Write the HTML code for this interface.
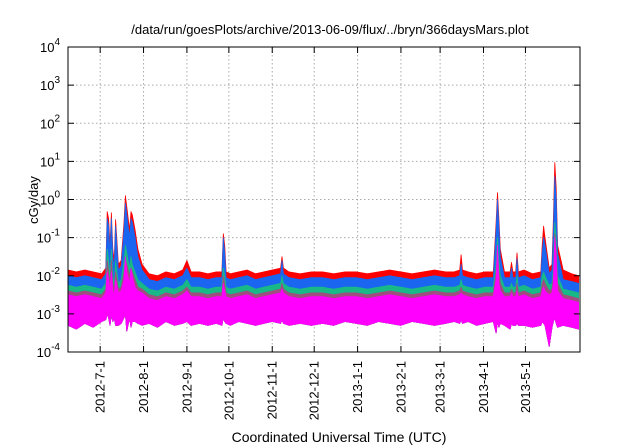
<!DOCTYPE html>
<html><head><meta charset="utf-8"><style>
body{margin:0;background:#fff}
svg{display:block;font-family:"Liberation Sans",sans-serif}
</style></head><body>
<svg id="c" width="640" height="448" viewBox="0 0 640 448">
<rect width="640" height="448" fill="#fff"/>
<text x="330" y="34" text-anchor="middle" font-size="13">/data/run/goesPlots/archive/2013-06-09/flux/../bryn/366daysMars.plot</text>
<text transform="translate(38,200) rotate(-90)" text-anchor="middle" font-size="13">cGy/day</text>
<text x="339" y="442" text-anchor="middle" font-size="14">Coordinated Universal Time (UTC)</text>
<g id="grid"></g><g id="series"></g><g id="axes"></g>
</svg>
<script>
const days=[0,6,12,18,24, 27,28,29,30,31,32,33,34, 36,38,40,41,42,44,45,46,48,50,53, 58,64,70,76,82,85,88, 94,100,106,110,111,112,113,116, 122,128,134,140,146,152,153,154,158, 166,174,182,190,198,206,214,222,230,238,246,254,262,270,276, 280,281,282,286,292,298,304, 306,307,308,309,312,316,317,318,320,321,322, 326,332,338,339,340,341,344,346,347,348,349,350, 354,360,365];
const redLog=[-1.85,-1.9,-1.85,-1.9,-1.95, -1.8,-0.32,-0.5,-1.2,-0.35,-1.3,-1.6,-0.53, -1.7,-1.6,-0.6,0.1,-0.2,-0.8,-0.32,-0.4,-0.8,-1.3,-1.7, -1.95,-2.0,-1.9,-1.95,-1.85,-1.6,-1.9, -1.9,-1.95,-1.9,-1.9,-0.9,-1.2,-1.9,-1.95, -1.9,-1.85,-1.95,-1.9,-1.85,-1.8,-1.5,-1.8,-1.9, -1.95,-1.9,-1.9,-1.95,-1.9,-1.9,-1.95,-1.9,-1.85,-1.9,-1.95,-1.9,-1.85,-1.9,-1.9, -1.85,-1.45,-1.85,-1.9,-1.95,-1.9,-1.9, -0.6,0.18,-0.5,-1.3,-1.9,-1.9,-1.65,-1.9,-1.9,-1.4,-1.9, -1.85,-1.95,-1.9,-1.2,-0.7,-1.0,-1.8,-1.7,-0.5,0.97,0.3,-1.2, -1.85,-1.95,-2.0];
const blueLog=[-2.0,-2.05,-2.0,-2.05,-2.1, -1.95,-0.5,-0.7,-1.4,-0.5,-1.5,-1.8,-0.7, -1.85,-1.75,-0.8,-0.1,-0.4,-1.0,-0.5,-0.6,-1.0,-1.5,-1.85, -2.1,-2.15,-2.05,-2.1,-2.0,-1.8,-2.05, -2.05,-2.1,-2.05,-2.05,-1.0,-1.4,-2.05,-2.1, -2.05,-2.0,-2.1,-2.05,-2.0,-1.95,-1.6,-1.95,-2.05, -2.1,-2.05,-2.05,-2.1,-2.05,-2.05,-2.1,-2.05,-2.0,-2.05,-2.1,-2.05,-2.0,-2.05,-2.05, -2.0,-1.7,-2.0,-2.05,-2.1,-2.05,-2.05, -0.8,0.0,-0.7,-1.5,-2.05,-2.05,-1.8,-2.05,-2.05,-1.55,-2.05, -2.0,-2.1,-2.05,-1.4,-1.0,-1.2,-1.95,-1.85,-0.8,0.6,0.0,-1.4, -2.1,-2.15,-2.2];
const greenLog=[-2.25,-2.3,-2.25,-2.3,-2.35, -2.2,-1.3,-1.6,-2.0,-1.3,-2.0,-2.2,-1.6, -2.2,-2.1,-1.6,-1.2,-1.4,-1.8,-1.5,-1.7,-1.9,-2.1,-2.2, -2.35,-2.4,-2.3,-2.35,-2.25,-2.1,-2.3, -2.3,-2.35,-2.3,-2.3,-1.8,-2.0,-2.3,-2.35, -2.3,-2.25,-2.35,-2.3,-2.25,-2.2,-2.0,-2.2,-2.3, -2.35,-2.3,-2.3,-2.35,-2.3,-2.3,-2.35,-2.3,-2.25,-2.3,-2.35,-2.3,-2.25,-2.3,-2.3, -2.25,-2.1,-2.25,-2.3,-2.35,-2.3,-2.3, -1.7,-1.0,-1.6,-2.0,-2.3,-2.3,-2.2,-2.3,-2.3,-2.0,-2.3, -2.25,-2.35,-2.3,-2.0,-1.9,-2.0,-2.25,-2.2,-1.8,-0.6,-1.0,-2.0, -2.35,-2.4,-2.45];
const purpleLog=[-2.4,-2.45,-2.4,-2.45,-2.5, -2.35,-1.6,-1.9,-2.2,-1.6,-2.2,-2.35,-1.9, -2.35,-2.3,-1.9,-1.6,-1.7,-2.0,-1.8,-1.9,-2.1,-2.3,-2.35, -2.5,-2.55,-2.45,-2.5,-2.4,-2.3,-2.45, -2.45,-2.5,-2.45,-2.45,-2.0,-2.2,-2.45,-2.5, -2.45,-2.4,-2.5,-2.45,-2.4,-2.35,-2.2,-2.35,-2.45, -2.5,-2.45,-2.45,-2.5,-2.45,-2.45,-2.5,-2.45,-2.4,-2.45,-2.5,-2.45,-2.4,-2.45,-2.45, -2.4,-2.3,-2.4,-2.45,-2.5,-2.45,-2.45, -1.9,-1.3,-1.9,-2.2,-2.45,-2.45,-2.35,-2.45,-2.45,-2.2,-2.45, -2.4,-2.5,-2.45,-2.2,-2.1,-2.2,-2.4,-2.35,-2.0,-0.9,-1.3,-2.2, -2.5,-2.55,-2.6];
const magentaLog=[-2.5,-2.55,-2.5,-2.55,-2.6, -2.45,-1.9,-2.1,-2.4,-1.9,-2.4,-2.5,-2.1, -2.45,-2.4,-2.1,-1.5,-1.9,-2.2,-1.8,-2.0,-2.3,-2.4,-2.45, -2.6,-2.65,-2.55,-2.6,-2.5,-2.4,-2.55, -2.55,-2.6,-2.55,-2.55,-2.2,-2.4,-2.55,-2.6, -2.55,-2.5,-2.6,-2.55,-2.5,-2.45,-2.35,-2.45,-2.55, -2.6,-2.55,-2.55,-2.6,-2.55,-2.55,-2.6,-2.55,-2.5,-2.55,-2.6,-2.55,-2.5,-2.55,-2.55, -2.5,-2.45,-2.5,-2.55,-2.6,-2.55,-2.55, -2.1,-1.2,-2.2,-2.4,-2.55,-2.55,-2.45,-2.55,-2.55,-2.4,-2.55, -2.5,-2.6,-2.55,-2.4,-2.3,-2.4,-2.5,-2.45,-2.2,-1.0,-1.5,-2.4, -2.6,-2.65,-2.7];
const floorLog=[-3.3,-3.4,-3.25,-3.35,-3.2, -3.15,-3.0,-3.1,-3.3,-3.0,-3.2,-3.1,-3.3, -3.3,-3.25,-3.1,-3.0,-3.45,-3.1,-3.35,-3.2,-3.2,-3.25,-3.3, -3.25,-3.35,-3.2,-3.3,-3.25,-3.2,-3.3, -3.25,-3.3,-3.25,-3.3,-3.1,-3.2,-3.25,-3.3, -3.2,-3.25,-3.3,-3.25,-3.2,-3.25,-3.15,-3.25,-3.3, -3.25,-3.3,-3.25,-3.3,-3.2,-3.25,-3.3,-3.2,-3.25,-3.3,-3.2,-3.25,-3.3,-3.25,-3.2, -3.25,-3.15,-3.25,-3.2,-3.3,-3.25,-3.2, -3.5,-3.2,-3.35,-3.25,-3.3,-3.4,-3.25,-3.3,-3.3,-3.25,-3.3, -3.3,-3.35,-3.3,-3.2,-3.25,-3.3,-3.85,-3.35,-3.2,-3.1,-3.25,-3.35, -3.3,-3.35,-3.4];
const yTickExp=[-4,-3,-2,-1,0,1,2,3,4];
const xTickLabels=["2012-7-1","2012-8-1","2012-9-1","2012-10-1","2012-11-1","2012-12-1","2013-1-1","2013-2-1","2013-3-1","2013-4-1","2013-5-1"];
const xTickDays=[23,54,85,115,146,176,207,238,266,297,327];

const L=68,R=580,T=47,B=352,NS="http://www.w3.org/2000/svg";
const xs=d=>L+d*(R-L)/366;
const ys=e=>B-(e+4)*(B-T)/8;
function mk(tag,attrs,parent){const el=document.createElementNS(NS,tag);for(const k in attrs)el.setAttribute(k,attrs[k]);parent.appendChild(el);return el;}
const grid=document.getElementById('grid'),ser=document.getElementById('series'),ax=document.getElementById('axes');
yTickExp.forEach(e=>{
  const y=ys(e);
  if(e>-4&&e<4){const g=mk('line',{x1:L,x2:R,y1:y,y2:y,stroke:'#aaa','stroke-dasharray':'1.5,2.5','stroke-width':1},grid);
  
  }
  const t=mk('line',{x1:L,x2:L+6,y1:y,y2:y,stroke:'#000'},ax);
  
  
  const t2=mk('line',{x1:R-6,x2:R,y1:y,y2:y,stroke:'#000'},ax);
  
  
  const tx=mk('text',{x:L-8,y:y+5,'text-anchor':'end','font-size':13},ax);
  tx.innerHTML='10<tspan dy="-7" font-size="10">'+e+'</tspan>';
  
  
});
xTickDays.forEach((d,i)=>{
  const x=xs(d);
  const g=mk('line',{x1:x,x2:x,y1:T,y2:B,stroke:'#aaa','stroke-dasharray':'1.5,2.5','stroke-width':1},grid);
  
  
  const t=mk('line',{x1:x,x2:x,y1:B-6,y2:B,stroke:'#000'},ax);
  
  
  const t2=mk('line',{x1:x,x2:x,y1:T,y2:T+6,stroke:'#000'},ax);
  
  
  const tx=mk('text',{transform:`translate(${x+4.5},${B+9}) rotate(-90)`,'text-anchor':'end','font-size':13},ax);
  tx.textContent=xTickLabels[i];
  
  
});
function band(vals,color,name){
  let pts=days.map((d,i)=>xs(d).toFixed(1)+','+ys(vals[i]).toFixed(1));
  for(let i=days.length-1;i>=0;i--)pts.push(xs(days[i]).toFixed(1)+','+ys(floorLog[i]).toFixed(1));
  const p=mk('polygon',{points:pts.join(' '),fill:color,stroke:color,'stroke-width':0.8,'stroke-linejoin':'round'},ser);
  
  
}
band(redLog,'#ff0000','series-red');
band(blueLog,'#1a66f0','series-blue');
band(greenLog,'#18b887','series-green');
band(purpleLog,'#a04d80','series-purple');
band(magentaLog,'#ff00ff','series-magenta');
const f=mk('rect',{x:L,y:T,width:R-L,height:B-T,fill:'none',stroke:'#000','stroke-width':1},ax);


</script>
</body></html>
